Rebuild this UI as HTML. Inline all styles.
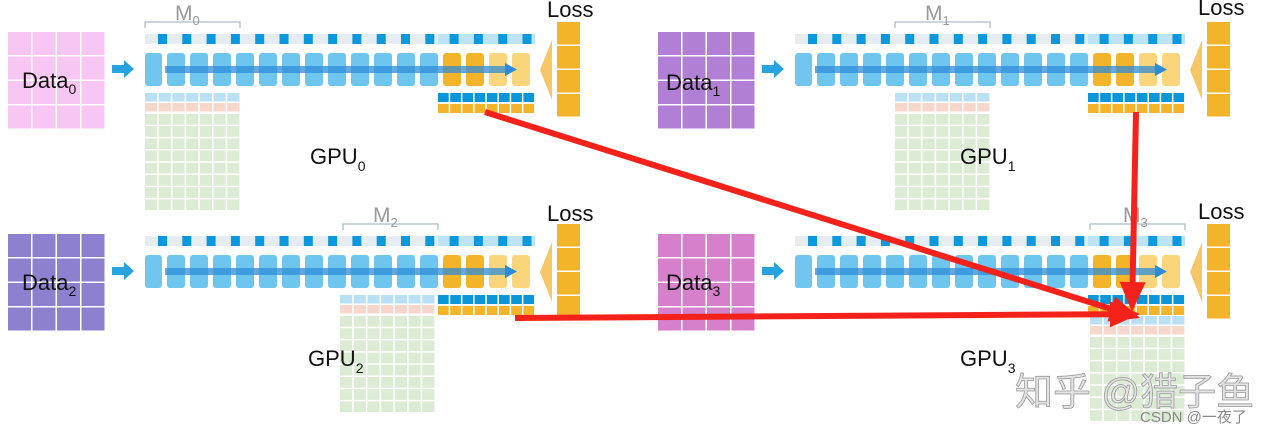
<!DOCTYPE html>
<html><head><meta charset="utf-8"><style>
html,body{margin:0;padding:0;background:#fff;width:1280px;height:436px;overflow:hidden}
svg{display:block}
text{font-family:"Liberation Sans","Noto Sans CJK SC",sans-serif}
</style></head><body>
<svg id="s" width="1280" height="436" viewBox="0 0 1280 436" xmlns="http://www.w3.org/2000/svg">
<g id="shapes"></g>
<g font-size="22" fill="#111">
<text x="22" y="88">Data<tspan font-size="14" dy="6">0</tspan></text>
<text x="666" y="90">Data<tspan font-size="14" dy="6">1</tspan></text>
<text x="22" y="290">Data<tspan font-size="14" dy="6">2</tspan></text>
<text x="666" y="290">Data<tspan font-size="14" dy="6">3</tspan></text>
<text x="310" y="164">GPU<tspan font-size="14" dy="7">0</tspan></text>
<text x="960" y="164">GPU<tspan font-size="14" dy="7">1</tspan></text>
<text x="308" y="366">GPU<tspan font-size="14" dy="7">2</tspan></text>
<text x="960" y="366">GPU<tspan font-size="14" dy="7">3</tspan></text>
<text x="547" y="17">Loss</text>
<text x="1198" y="15">Loss</text>
<text x="547" y="221">Loss</text>
<text x="1198" y="219">Loss</text>
</g>
<g font-size="21" fill="#999">
<text x="175" y="20">M<tspan font-size="13" dy="5">0</tspan></text>
<text x="925" y="20">M<tspan font-size="13" dy="5">1</tspan></text>
<text x="373" y="222">M<tspan font-size="13" dy="5">2</tspan></text>
<text x="1123" y="222">M<tspan font-size="13" dy="5">3</tspan></text>
</g>
<g id="arrows"></g>
<text x="1015" y="405" font-size="38" fill="#e4e4e4" stroke="#999" stroke-width="0.8">知乎 @猎子鱼</text>
<text x="1140" y="422" font-size="15" fill="#888">CSDN @一夜了</text>
</svg>
<script>
var NS="http://www.w3.org/2000/svg";
var g=document.getElementById("shapes");
function R(x,y,w,h,f,rx,op){var r=document.createElementNS(NS,"rect");r.setAttribute("x",x);r.setAttribute("y",y);r.setAttribute("width",w);r.setAttribute("height",h);r.setAttribute("fill",f);if(rx)r.setAttribute("rx",rx);if(op!=null)r.setAttribute("opacity",op);g.appendChild(r);return r;}
function P(d,f,parent,stroke,sw){var p=document.createElementNS(NS,"path");p.setAttribute("d",d);p.setAttribute("fill",f||"none");if(stroke){p.setAttribute("stroke",stroke);p.setAttribute("stroke-width",sw);}(parent||g).appendChild(p);return p;}
function grid(x,y,cols,rows,cw,ch,colors){for(var r=0;r<rows;r++)for(var c=0;c<cols;c++){R(x+c*cw,y+r*ch,cw-1.5,ch-1.5,colors);}}
function panel(ox,oy,dc,mx,gx,gy0,gy1){
  grid(ox+8,oy+32,4,4,24.5,24.5,dc);
  P("M"+(ox+112)+" "+(oy+65)+"h12v-5l10 9l-10 9v-5h-12z","#27a3e0");
  R(ox+145,oy+34,390,10,"#e6edf2");
  R(ox+438,oy+34,97,10,"#bfe3f6");
  for(var i=0;i<16;i++)R(ox+158+i*24.3,oy+34,9,10,"#0b98dc");
  R(ox+145,oy+53,17,33,"#72c6ee",3);
  for(var i=0;i<16;i++){var c=i<12?"#6ec5ee":(i<14?"#f4b42a":"#fad57c");R(ox+167+i*23,oy+53,18,33,c,3);}
  R(ox+165,oy+66,340,7,"#2d8cd8",0,0.75);
  P("M"+(ox+505)+" "+(oy+63)+"l12 6.5l-12 6.5z","#2d8cd8");
  P("M"+(ox+540)+" "+(oy+70)+"l12 -30v60z","#f6c766");
  for(var i=0;i<4;i++)R(ox+557,oy+22+i*24,23,22.5,"#f4b42a");
  P("M"+(ox+mx)+" "+(oy+28)+"v-6h95v6","none",null,"#9ab","1");
  grid(ox+gx,oy+gy0,7,1,13.7,10,"#b9e0f4");
  grid(ox+gx,oy+gy0+10,7,1,13.7,10,"#f7d6cc");
  var rows=Math.round((gy1-gy0-20)/12.2);
  grid(ox+gx,oy+gy0+21,7,rows,13.7,12.2,"#dcebd4");
  grid(ox+438,oy+93,8,1,12.2,10.5,"#0b96da");
  grid(ox+438,oy+104,8,1,12.2,10.5,"#f4b42a");
}
panel(0,0,"#f8c6f2",145,145,93,213);
panel(650,0,"#b27fd6",245,245,93,213);
panel(0,202,"#8d80cf",343,340,93,213);
panel(650,202,"#d67fcb",440,440,114,224);
var a=document.getElementById("arrows");
function arrow(x1,y1,x2,y2){var dx=x2-x1,dy=y2-y1,L=Math.hypot(dx,dy),ux=dx/L,uy=dy/L,px=-uy,py=ux;var hl=30,hw=13;var bx=x2-ux*hl,by=y2-uy*hl;
P("M"+x1+" "+y1+"L"+bx+" "+by,"none",a,"#f5221b",6);
P("M"+x2+" "+y2+"L"+(bx+px*hw)+" "+(by+py*hw)+"L"+(bx-px*hw)+" "+(by-py*hw)+"z","#f5221b",a);}
arrow(485,112,1140,318);
arrow(1136,112,1132,312);
arrow(515,318,1140,314);
</script>
</body></html>
